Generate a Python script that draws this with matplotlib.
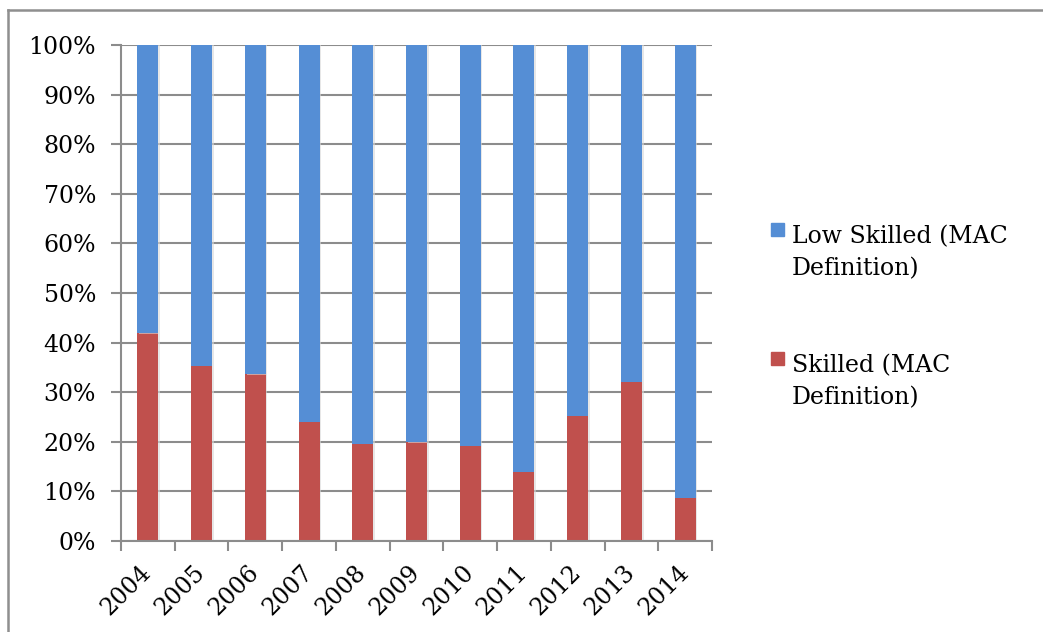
import matplotlib
matplotlib.use('Agg')
import matplotlib.pyplot as plt
import matplotlib.patheffects as pe
import matplotlib.transforms as mtransforms
from matplotlib.lines import Line2D
from matplotlib.patches import Rectangle
import numpy as np

years = ['2004', '2005', '2006', '2007', '2008', '2009',
         '2010', '2011', '2012', '2013', '2014']
skilled = [41.9, 35.3, 33.6, 24.0, 19.6, 19.9, 19.2, 13.9, 25.3, 32.1, 8.7]
low_skilled = [100 - s for s in skilled]
series_names = [['Low Skilled (MAC', 'Definition)'], ['Skilled (MAC', 'Definition)']]

blue = '#558ed5'
red = '#c0504d'
grey = '#8c8c8c'
fs = 17
W, H = 1043, 632

plt.rcParams['font.family'] = ['DejaVu Serif']

fig = plt.figure(figsize=(W / 100, H / 100), dpi=100)
ax = fig.add_axes([121 / W, 1 - 541 / H, (712 - 121) / W, (541 - 45) / H])

x = np.arange(len(years))
shadow = [pe.SimplePatchShadow(offset=(1.2, -0.3), shadow_rgbFace='#d8d8d8', alpha=0.6), pe.Normal()]
b1 = ax.bar(x, skilled, width=0.39, color=red, zorder=3)
b2 = ax.bar(x, low_skilled, width=0.39, bottom=skilled, color=blue, zorder=3)
for b in list(b1) + list(b2):
    b.set_path_effects(shadow)

ax.set_xlim(-0.5, len(years) - 0.5)
ax.set_ylim(0, 100)
ax.set_yticks(np.arange(0, 101, 10))
ax.set_yticklabels(['%d%%' % v for v in range(0, 101, 10)], fontsize=fs)
ax.yaxis.grid(True, color=grey, linewidth=1.5, zorder=0)
ax.set_axisbelow(True)

# category ticks sit on the boundaries between bars
ax.set_xticks(np.arange(-0.5, len(years), 1.0))
ax.set_xticklabels([])
ax.set_xticks(x, minor=True)
ax.set_xticklabels(years, minor=True, rotation=45, ha='right', va='center',
                   rotation_mode='anchor', fontsize=fs)
nudge = mtransforms.ScaledTranslation(3 / 100, 0, fig.dpi_scale_trans)
for lbl in ax.get_xticklabels(minor=True):
    lbl.set_transform(lbl.get_transform() + nudge)
ax.tick_params(axis='x', which='minor', length=0, pad=20)
ax.tick_params(axis='x', which='major', length=7, width=1.5, color=grey)
ax.tick_params(axis='y', length=7, width=1.5, color=grey, pad=11)

for s in ['top', 'right']:
    ax.spines[s].set_visible(False)
for s in ['left', 'bottom']:
    ax.spines[s].set_color(grey)
    ax.spines[s].set_linewidth(1.5)
ax.spines['left'].set_zorder(4)
ax.spines['bottom'].set_zorder(4)

# legend: square swatch beside the first line of each two-line label
legend_tops = [223, 352]
for (l1, l2), col, top in zip(series_names, [blue, red], legend_tops):
    fig.add_artist(Rectangle((771 / W, 1 - (top + 13) / H), 13 / W, 13 / H,
                             color=col, transform=fig.transFigure))
    fig.text(792 / W, 1 - (top + 20) / H, l1, fontsize=fs, va='baseline')
    fig.text(792 / W, 1 - (top + 52) / H, l2, fontsize=fs, va='baseline')

# outer chart frame
fig.add_artist(Line2D([8 / W, 8 / W], [0, 1 - 10 / H], color='#8f8f8f',
                      linewidth=1.8, transform=fig.transFigure))
fig.add_artist(Line2D([8 / W, 1], [1 - 10 / H, 1 - 10 / H], color='#8f8f8f',
                      linewidth=1.8, transform=fig.transFigure))

fig.savefig('out.png', dpi=100, facecolor='white')
